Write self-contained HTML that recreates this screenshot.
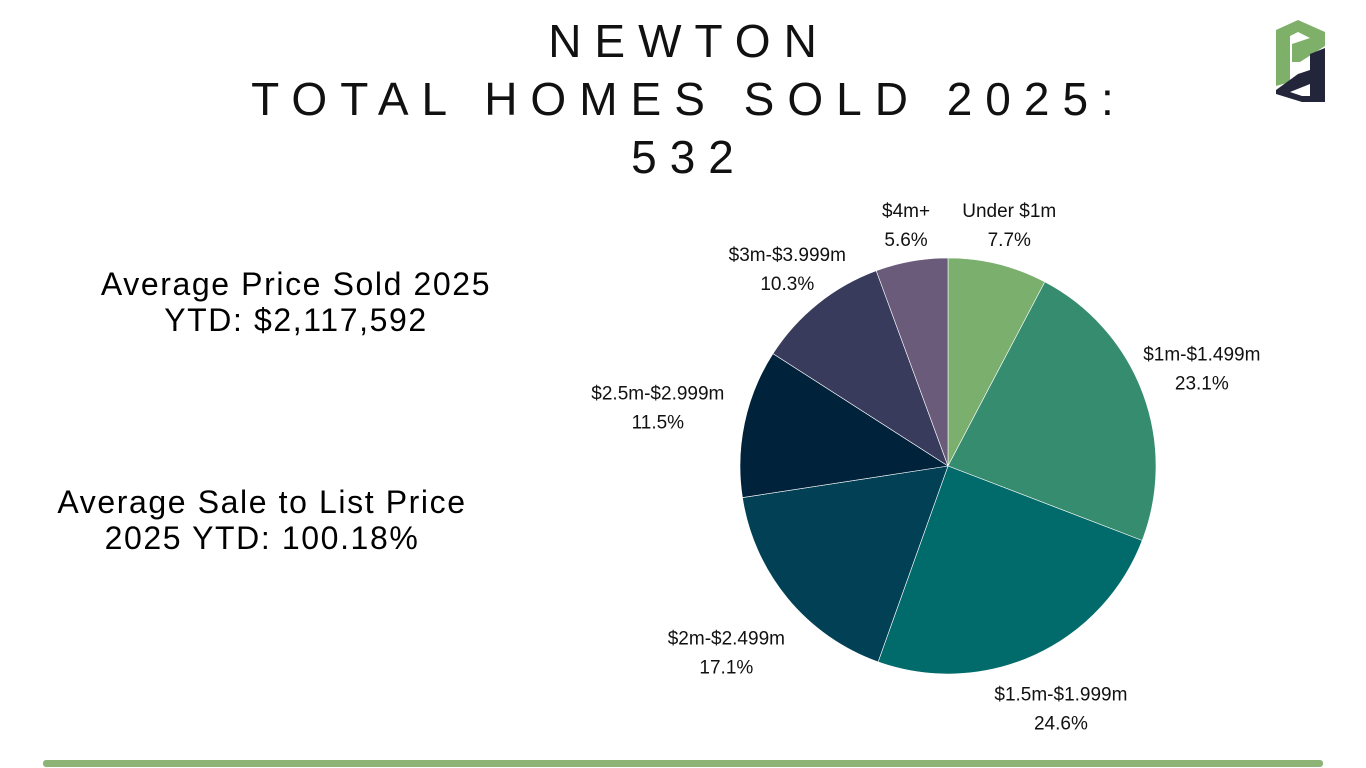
<!DOCTYPE html>
<html><head><meta charset="utf-8">
<style>
body{margin:0;width:1366px;height:768px;background:#fff;position:relative;overflow:hidden;font-family:"Century Gothic","Liberation Sans",sans-serif;color:#000}
.title{position:absolute;left:0;width:1366px;top:12px;text-align:center;font-size:46px;letter-spacing:13px;line-height:58px;font-weight:normal;padding-left:12px;box-sizing:border-box;color:#111}
.stat{position:absolute;text-align:center;font-size:32px;letter-spacing:1.6px;line-height:36px}
.bar{position:absolute;left:43px;top:760px;width:1280px;height:7px;background:#8DB376;border-radius:3px}
</style></head><body>
<div class="title">NEWTON<br>TOTAL HOMES SOLD 2025:<br>532</div>
<div class="stat" style="left:46px;width:500px;top:266px">Average Price Sold 2025<br>YTD: $2,117,592</div>
<div class="stat" style="left:12px;width:500px;top:484px">Average Sale to List Price<br>2025 YTD: 100.18%</div>
<svg style="position:absolute;left:1272px;top:18px" width="60" height="90" viewBox="0 0 60 90">
<polygon points="4,12 26,2 53,14 53,28 28,44 20,44 20,26 38,20 26,14 18,18 18,64 4,68" fill="#7FB069"/>
<polygon points="53,30 53,84 30,84 4,76 4,72 26,56 38,52 38,36" fill="#23253a"/>
<polygon points="18,74 38,66 38,78 30,78" fill="#fff"/>
</svg>
<svg id="pie" style="position:absolute;left:0;top:0" width="1366" height="768"></svg>
<div class="bar"></div>
<script>
const categories=["Under $1m","$1m-$1.499m","$1.5m-$1.999m","$2m-$2.499m","$2.5m-$2.999m","$3m-$3.999m","$4m+"];
const shares=[7.7,23.1,24.6,17.1,11.5,10.3,5.6];
const labels=["7.7%","23.1%","24.6%","17.1%","11.5%","10.3%","5.6%"];
const colors=["#7BAF6E","#358C6F","#006B6A","#014055","#01223B","#393B5C","#6A5B7A"];
const NS="http://www.w3.org/2000/svg";
const svg=document.getElementById('pie');
const cx=948,cy=466,r=208;
const nudgeX=[-3,3,1,-15,-28,7,5], nudgeY=[17,-5,-3,14,-5,10,21];
const total=shares.reduce((a,b)=>a+b,0);
function pt(frac,rad){const a=frac*2*Math.PI;return [cx+rad*Math.sin(a),cy-rad*Math.cos(a)];}
let acc=0;
shares.forEach((v,i)=>{
 const s=acc/total,e=(acc+v)/total;acc+=v;
 const [x1,y1]=pt(s,r),[x2,y2]=pt(e,r);
 const p=document.createElementNS(NS,'path');
 p.setAttribute('d',`M${cx},${cy}L${x1},${y1}A${r},${r} 0 ${e-s>0.5?1:0} 1 ${x2},${y2}Z`);
 p.setAttribute('fill',colors[i]);p.setAttribute('stroke','#fff');p.setAttribute('stroke-width','0.6');
 
 
 svg.appendChild(p);
 const m=(s+e)/2;let [lx,ly]=pt(m,r+60);lx+=nudgeX[i];ly+=nudgeY[i];
 const t=document.createElementNS(NS,'text');
 t.setAttribute('x',lx);t.setAttribute('y',ly-6);t.setAttribute('text-anchor','middle');
 t.setAttribute('font-size','19');t.setAttribute('fill','#111');t.setAttribute('font-family','"Century Gothic","Liberation Sans",sans-serif');
 
 
 const a=document.createElementNS(NS,'tspan');a.setAttribute('x',lx);a.textContent=categories[i];
 const b=document.createElementNS(NS,'tspan');b.setAttribute('x',lx);b.setAttribute('dy','29');b.textContent=labels[i];
 t.appendChild(a);t.appendChild(b);svg.appendChild(t);
});
</script>
</body></html>
